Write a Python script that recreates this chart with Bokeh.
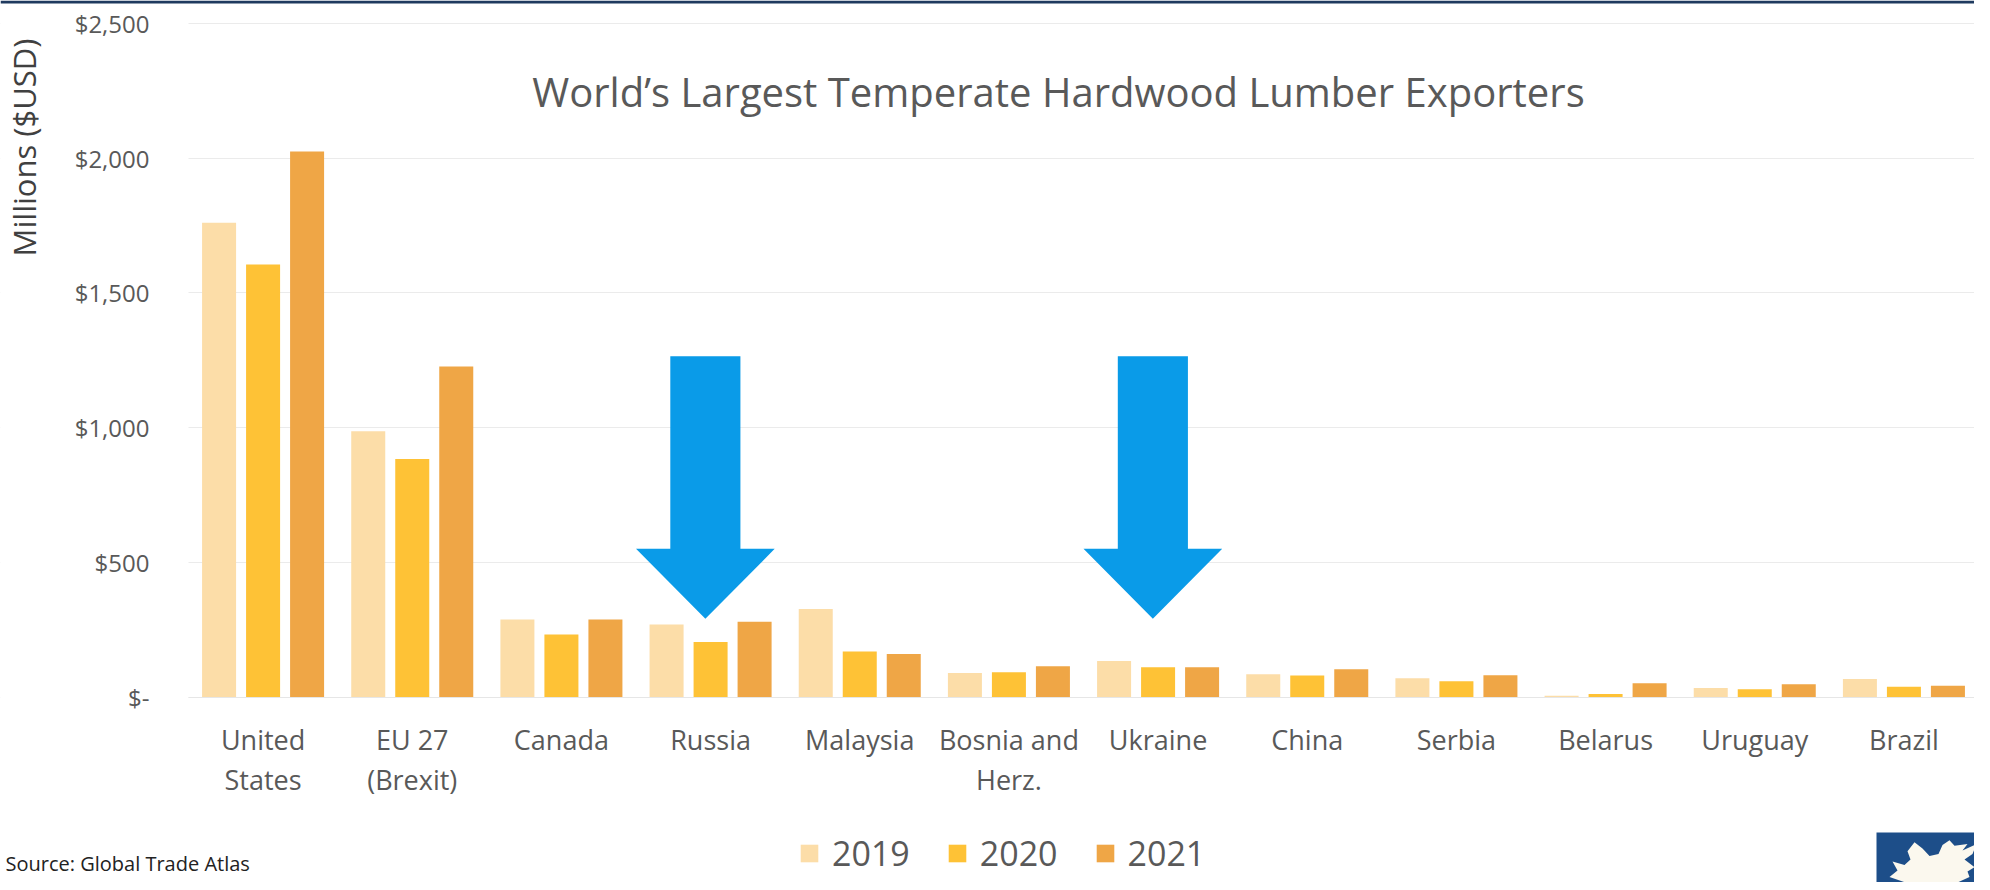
import numpy as np
from bokeh.plotting import figure
from bokeh.models import (Range1d, FixedTicker, NumeralTickFormatter, Label, Legend,
                          LegendItem, BoxAnnotation, PolyAnnotation, ColumnDataSource)
from bokeh.transform import dodge
from bokeh.embed import file_html
from bokeh.resources import INLINE

countries = ["United\nStates", "EU 27\n(Brexit)", "Canada", "Russia", "Malaysia",
             "Bosnia and\nHerz.", "Ukraine", "China", "Serbia", "Belarus", "Uruguay", "Brazil"]
years = ["2019", "2020", "2021"]
v2019 = [1760, 986, 288, 269, 327, 89, 134, 84, 70, 5, 33, 67]
v2020 = [1605, 883, 232, 204, 169, 92, 110, 80, 58, 11, 29, 38]
v2021 = [2025, 1227, 288, 279, 160, 114, 110, 103, 81, 51, 47, 42]
yticks = [0, 500, 1000, 1500, 2000, 2500]
highlighted = ["Russia", "Ukraine"]

colors = ["#FCDDA8", "#FEC236", "#EFA646"]
FONT = "Open Sans"
GRAY = "#595959"

# layout (pixels inside the canvas; frame == whole canvas, origin bottom-left)
W, H = 1974, 882
PLOT_L, PLOT_R = 188, 1978      # screen x of the category band edges
ZERO_Y, TOP_Y = 185.5, 859      # screen y of value 0 and of value 2500
n = len(countries)
ymax = yticks[-1]
ux = n / (PLOT_R - PLOT_L)
uy = ymax / (TOP_Y - ZERO_Y)
x_range = Range1d(-0.5 - PLOT_L * ux, n - 0.5 + (W - PLOT_R) * ux)
y_range = Range1d(-ZERO_Y * uy, ymax + (H - TOP_Y) * uy)

idx = list(range(n))
src = ColumnDataSource(dict(x=idx, v2019=v2019, v2020=v2020, v2021=v2021))

p = figure(width=W, height=H, output_backend="svg", toolbar_location=None,
           x_range=x_range, y_range=y_range, min_border=0)
p.outline_line_color = None
p.background_fill_color = "white"
p.border_fill_color = "white"

# grid
p.xgrid.visible = False
p.ygrid.ticker = FixedTicker(ticks=yticks)
p.ygrid.grid_line_color = "#EBEBEB"
p.ygrid.grid_line_width = 1
# keep grid lines inside the plot band
p.add_layout(BoxAnnotation(left=0, right=PLOT_L, bottom=0, top=H,
                           left_units="screen", right_units="screen",
                           top_units="screen", bottom_units="screen",
                           fill_color="white", fill_alpha=1, line_color=None, level="underlay"))

# bars
offsets = [-0.295, 0.0, 0.295]
renderers = []
for yr, off, col in zip(years, offsets, colors):
    r = p.vbar(x=dodge("x", off, range=p.x_range), top="v" + yr, width=0.228,
               source=src, fill_color=col, line_color=None)
    renderers.append(r)

# axes
p.yaxis.fixed_location = -0.5
p.yaxis.bounds = (0, ymax)
p.yaxis.ticker = FixedTicker(ticks=yticks)
p.yaxis.formatter = NumeralTickFormatter(format="$0,0")
p.yaxis.major_label_overrides = {0: "$-"}
p.yaxis.axis_line_color = None
p.yaxis.major_tick_line_color = None
p.yaxis.minor_tick_line_color = None
p.yaxis.major_label_standoff = 33
p.yaxis.major_label_text_font = FONT
p.yaxis.major_label_text_font_size = "24px"
p.yaxis.major_label_text_color = GRAY

p.xaxis.fixed_location = 0
p.xaxis.bounds = (-0.5, n - 0.5)
p.xaxis.ticker = FixedTicker(ticks=idx)
p.xaxis.major_label_overrides = {i: c for i, c in zip(idx, countries)}
p.xaxis.axis_line_color = "#E6E6E6"
p.xaxis.major_tick_line_color = None
p.xaxis.minor_tick_line_color = None
p.xaxis.major_label_standoff = 18
p.xaxis.major_label_text_font = FONT
p.xaxis.major_label_text_font_size = "27px"
p.xaxis.major_label_text_color = GRAY
p.xaxis.major_label_text_line_height = 1.08

# arrows over highlighted countries
arrow_dx = [-0.27, -0.27, -0.50, -0.035, 0.43, 0.20, 0.20]
arrow_y = [1265, 550, 550, 290, 550, 550, 1265]
axs, ays = [], []
for c in highlighted:
    i = countries.index(c)
    axs.append([i + d for d in arrow_dx])
    ays.append(arrow_y)
p.patches(axs, ays, fill_color="#0A9BE8", line_color=None)

# title
p.add_layout(Label(x=1058, y=791, x_units="screen", y_units="screen",
                   text="World\u2019s Largest Temperate Hardwood Lumber Exporters",
                   text_align="center", text_baseline="middle", text_font=FONT,
                   text_font_size="40px", text_color=GRAY))
# y axis title
p.add_layout(Label(x=23, y=735, x_units="screen", y_units="screen",
                   text="Millions ($USD)", angle=np.pi / 2,
                   text_align="center", text_baseline="middle", text_font=FONT,
                   text_font_size="31px", text_color="#404040"))
# source
p.add_layout(Label(x=5, y=6, x_units="screen", y_units="screen",
                   text="Source: Global Trade Atlas",
                   text_align="left", text_baseline="bottom", text_font=FONT,
                   text_font_size="20px", text_color="#222222"))

# legend
legend = Legend(items=[LegendItem(label=yr, renderers=[r]) for yr, r in zip(years, renderers)],
                location=(798, 6), orientation="horizontal",
                glyph_width=22, glyph_height=22, label_standoff=12, spacing=36,
                padding=0, margin=0, border_line_color=None, background_fill_alpha=0,
                label_text_font=FONT, label_text_font_size="34px", label_text_color=GRAY)
p.add_layout(legend)

# top band and logo
p.add_layout(BoxAnnotation(left=0, right=W, top=H, bottom=H - 3,
                           left_units="screen", right_units="screen",
                           top_units="screen", bottom_units="screen",
                           fill_color="#1F3A5F", fill_alpha=1, line_color=None))
p.add_layout(BoxAnnotation(left=1876, right=W, top=50, bottom=0,
                           left_units="screen", right_units="screen",
                           top_units="screen", bottom_units="screen",
                           fill_color="#1D4E89", fill_alpha=1, line_color=None))
leaf_full = [(1913, 890), (1897, 880), (1905, 868), (1900, 852), (1912, 858), (1918, 848),
             (1915, 833), (1922, 817), (1930, 828), (1937, 842), (1946, 838), (1950, 822),
             (1957, 813), (1962, 823), (1975, 820), (1970, 832), (1984, 820), (1980, 838),
             (1972, 848), (1982, 862), (1975, 870), (1977, 880), (1965, 890)]
p.add_layout(PolyAnnotation(xs=[a - 8 for a, b in leaf_full],
                            ys=[(890 - b) * 0.55 for a, b in leaf_full],
                            xs_units="screen", ys_units="screen",
                            fill_color="#FBF8EE", fill_alpha=1, line_color=None))

open("out.html", "w").write(file_html(p, INLINE))
